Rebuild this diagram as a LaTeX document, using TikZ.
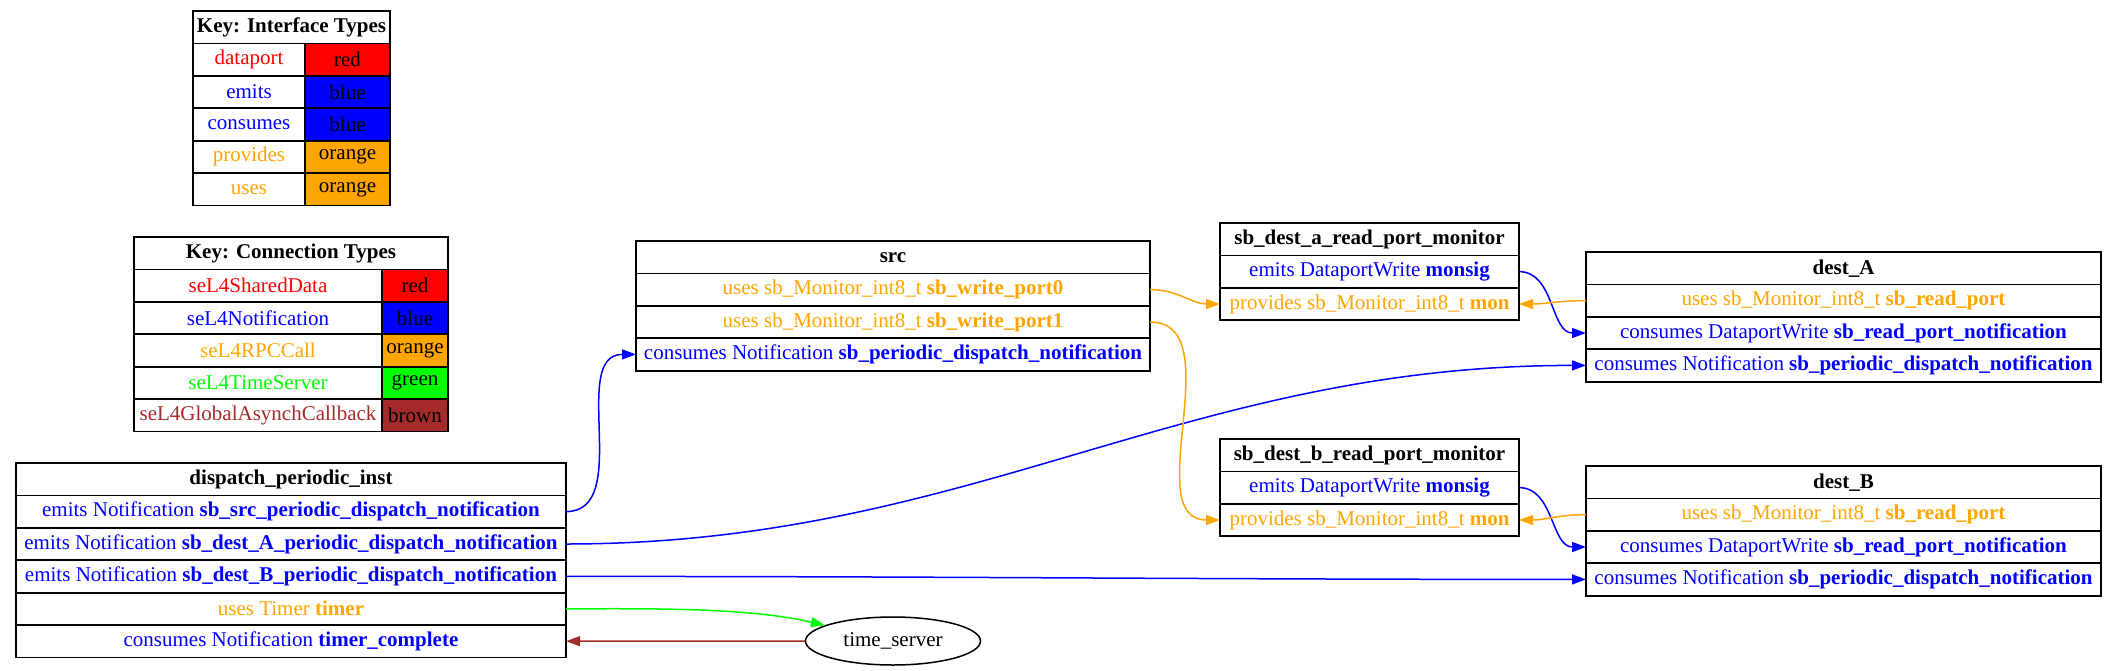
\documentclass[tikz,border=0pt]{standalone}
\usepackage{fontspec}
\setmainfont{Liberation Serif}
\usepackage{tikz}
\usetikzlibrary{positioning,arrows.meta,shapes.geometric}
\definecolor{gvorange}{RGB}{255,165,0}
\definecolor{gvblue}{RGB}{0,0,255}
\definecolor{gvred}{RGB}{255,0,0}
\definecolor{gvgreen}{RGB}{0,255,0}
\definecolor{gvbrown}{RGB}{165,42,42}
\newcommand{\gvfont}{\fontsize{10.5}{12}\selectfont}
\newcommand{\mont}{sb\_Monitor\_int8\_t}
\newcommand{\pdn}{sb\_periodic\_dispatch\_notification}
\tikzset{
  cell/.style ={draw=black, line width=0.9pt, outer sep=0pt, inner sep=1pt,
                minimum height=16.2pt, align=center, font=\gvfont},
  hdr/.style  ={cell, font=\gvfont\bfseries},
  blu/.style  ={cell, text=gvblue},
  orn/.style  ={cell, text=gvorange},
  ar/.style   ={-{Triangle[length=7pt,width=5pt]}, line width=0.75pt},
}

\begin{document}
\begin{tikzpicture}[x=0.5pt,y=-0.5pt]
\useasboundingbox (0,0) rectangle (2117,670);

% key: interface types
\node[hdr, anchor=north west, minimum width=98.5pt] (ki0) at (193,11) {Key: Interface Types};
\foreach \nm/\cl/\lb [count=\i] in {dataport/gvred/red, emits/gvblue/blue,
    consumes/gvblue/blue, provides/gvorange/orange, uses/gvorange/orange}{
  \pgfmathtruncatemacro\j{\i-1}
  \node[cell, anchor=north west, minimum width=56pt, text=\cl] (ki\i) at (ki\j.south west) {\nm};
  \node[cell, right=0pt of ki\i, minimum width=42.5pt, fill=\cl] (kic\i) {\lb};
}

% key: connection types
\node[hdr, anchor=north west, minimum width=157pt] (kc0) at (134,237) {Key: Connection Types};
\foreach \nm/\cl/\lb [count=\i] in {seL4SharedData/gvred/red, seL4Notification/gvblue/blue,
    seL4RPCCall/gvorange/orange, seL4TimeServer/gvgreen/green,
    seL4GlobalAsynchCallback/gvbrown/brown}{
  \pgfmathtruncatemacro\j{\i-1}
  \node[cell, anchor=north west, minimum width=124pt, text=\cl] (kc\i) at (kc\j.south west) {\nm};
  \node[cell, right=0pt of kc\i, minimum width=33pt, fill=\cl] (kcc\i) {\lb};
}

% dispatch_periodic_inst
\begin{scope}[cell/.append style={minimum width=275pt}]
\node[hdr, anchor=north west] (dp0) at (16,463) {dispatch\_periodic\_inst};
\node[blu, below=0pt of dp0] (dp1) {emits Notification \textbf{sb\_src\_periodic\_dispatch\_notification}};
\node[blu, below=0pt of dp1] (dp2) {emits Notification \textbf{sb\_dest\_A\_periodic\_dispatch\_notification}};
\node[blu, below=0pt of dp2] (dp3) {emits Notification \textbf{sb\_dest\_B\_periodic\_dispatch\_notification}};
\node[orn, below=0pt of dp3] (dp4) {uses Timer \textbf{timer}};
\node[blu, below=0pt of dp4] (dp5) {consumes Notification \textbf{timer\_complete}};
\end{scope}

% src
\begin{scope}[cell/.append style={minimum width=257pt}]
\node[hdr, anchor=north west] (src0) at (636,241) {src};
\node[orn, below=0pt of src0] (src1) {uses \mont{} \textbf{sb\_write\_port0}};
\node[orn, below=0pt of src1] (src2) {uses \mont{} \textbf{sb\_write\_port1}};
\node[blu, below=0pt of src2] (src3) {consumes Notification \textbf{\pdn}};
\end{scope}

% read port monitors
\begin{scope}[cell/.append style={minimum width=149.5pt}]
\node[hdr, anchor=north west] (ma0) at (1220,223) {sb\_dest\_a\_read\_port\_monitor};
\node[blu, below=0pt of ma0] (ma1) {emits DataportWrite \textbf{monsig}};
\node[orn, below=0pt of ma1] (ma2) {provides \mont{} \textbf{mon}};
\node[hdr, anchor=north west] (mb0) at (1220,439) {sb\_dest\_b\_read\_port\_monitor};
\node[blu, below=0pt of mb0] (mb1) {emits DataportWrite \textbf{monsig}};
\node[orn, below=0pt of mb1] (mb2) {provides \mont{} \textbf{mon}};
\end{scope}

% destinations
\begin{scope}[cell/.append style={minimum width=257.5pt}]
\node[hdr, anchor=north west] (da0) at (1586,252) {dest\_A};
\node[orn, below=0pt of da0] (da1) {uses \mont{} \textbf{sb\_read\_port}};
\node[blu, below=0pt of da1] (da2) {consumes DataportWrite \textbf{sb\_read\_port\_notification}};
\node[blu, below=0pt of da2] (da3) {consumes Notification \textbf{\pdn}};
\node[hdr, anchor=north west] (db0) at (1586,466) {dest\_B};
\node[orn, below=0pt of db0] (db1) {uses \mont{} \textbf{sb\_read\_port}};
\node[blu, below=0pt of db1] (db2) {consumes DataportWrite \textbf{sb\_read\_port\_notification}};
\node[blu, below=0pt of db2] (db3) {consumes Notification \textbf{\pdn}};
\end{scope}

\node[ellipse, draw, line width=0.75pt, minimum width=87.5pt, minimum height=24pt,
      inner sep=0pt, font=\gvfont] (ts) at (893,641) {time\_server};

% connections
\draw[ar,gvblue] (dp1.east) to[out=0,in=180] (src3.west);
\draw[ar,gvblue] (dp2.east) to[out=0,in=180] (da3.west);
\draw[ar,gvblue] (dp3.east) to[out=0,in=180] (db3.west);
\draw[ar,gvgreen] (dp4.east) to[out=0,in=167,looseness=0.8] (ts);
\draw[ar,gvbrown] (ts) -- (dp5.east);
\draw[ar,gvorange] (src1.east) to[out=0,in=180] (ma2.west);
\draw[ar,gvorange] (src2.east) to[out=0,in=180] (mb2.west);
\draw[ar,gvblue] (ma1.east) to[out=0,in=180] (da2.west);
\draw[ar,gvblue] (mb1.east) to[out=0,in=180] (db2.west);
\draw[ar,gvorange] (da1.west) to[out=180,in=0] (ma2.east);
\draw[ar,gvorange] (db1.west) to[out=180,in=0] (mb2.east);
\end{tikzpicture}
\end{document}
